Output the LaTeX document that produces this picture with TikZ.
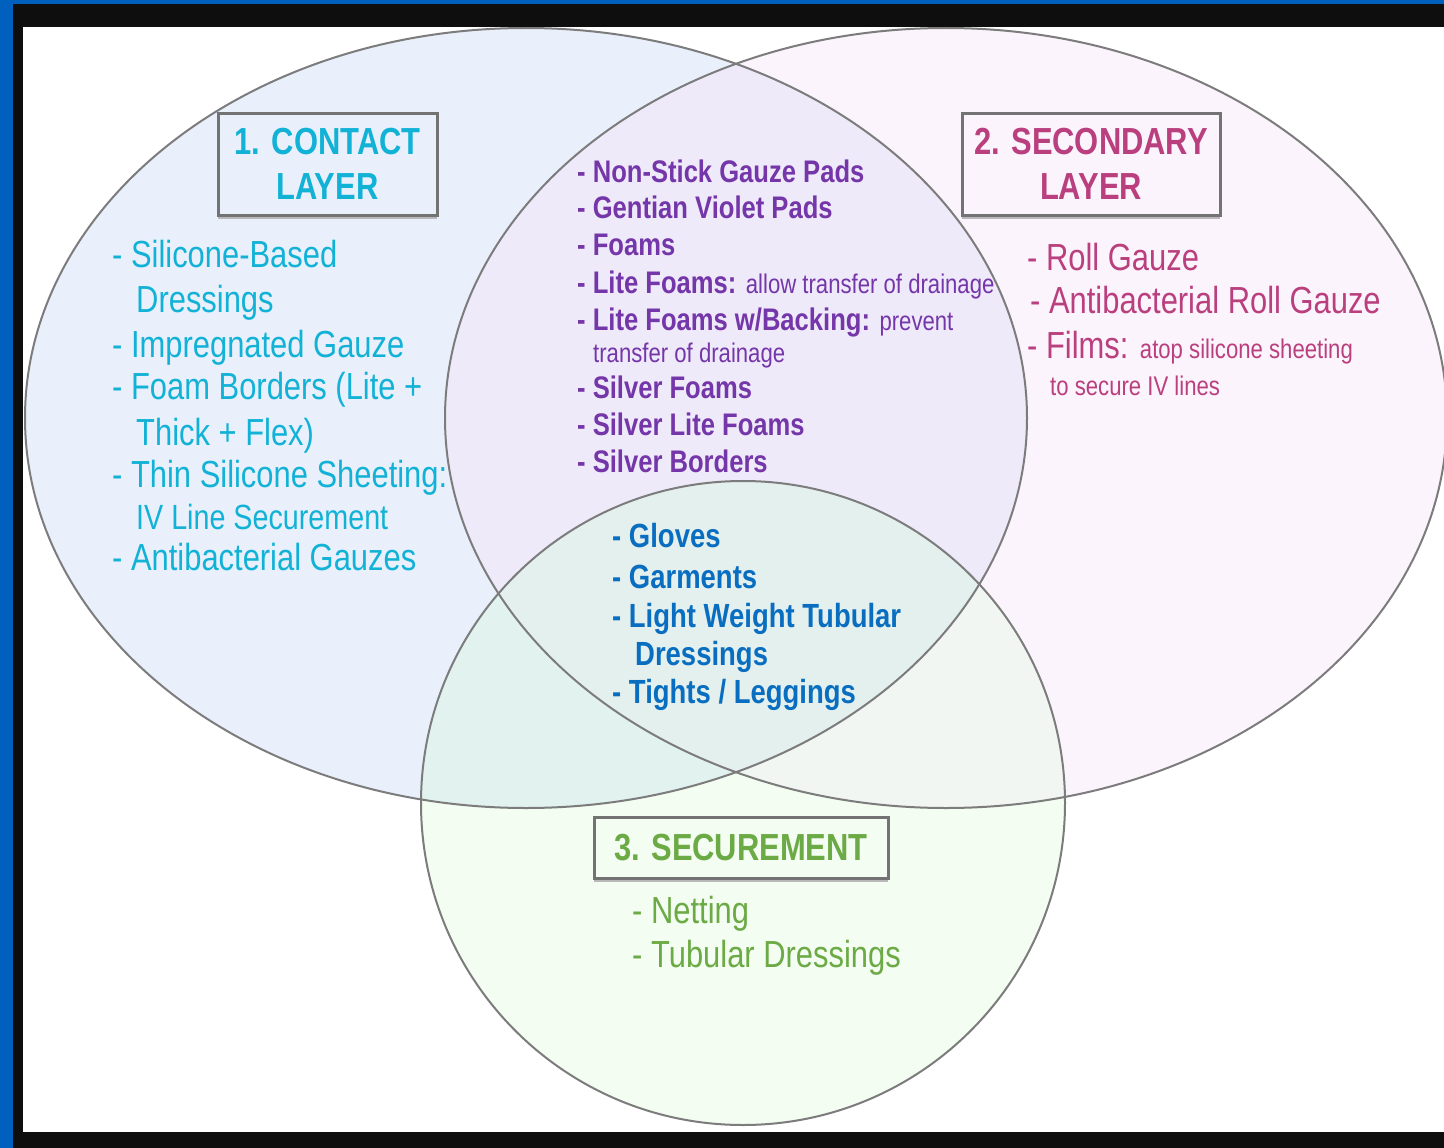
\documentclass[tikz,border=0pt]{standalone}
\usepackage{fontspec}
\setmainfont{Liberation Sans}[FakeStretch=0.82]
\usepackage{tikz}
\usetikzlibrary{shadows}

\definecolor{frameblue}{HTML}{0060BE}
\definecolor{frameblack}{HTML}{0E0E0E}
\definecolor{contactfill}{HTML}{E9F0FC}
\definecolor{secondfill}{HTML}{FCF4FC}
\definecolor{securefill}{HTML}{F3FDF1}
\definecolor{lensfill}{HTML}{EEEAFA}
\definecolor{contactsecure}{HTML}{E1F2EF}
\definecolor{secondsecure}{HTML}{F1F6F3}
\definecolor{allfill}{HTML}{E4F0EE}
\definecolor{rimgray}{HTML}{7C7C7C}
\definecolor{boxgray}{HTML}{737373}
\definecolor{shadowgray}{HTML}{B8B8B8}
\definecolor{contactcyan}{HTML}{12B2D6}
\definecolor{secondpink}{HTML}{BA3F7E}
\definecolor{securegreen}{HTML}{6BAA45}
\definecolor{sharedpurple}{HTML}{7436A8}
\definecolor{allblue}{HTML}{0A6EC0}

\begin{document}
\begin{tikzpicture}[x=1pt,y=-1pt,
	item/.style={anchor=base west,inner sep=0pt,font=\fontsize{37.7}{45}\selectfont},
	bolditem/.style={anchor=base west,inner sep=0pt,font=\fontsize{31.2}{37}\selectfont\bfseries},
	titlebox/.style={draw=boxgray,line width=3pt,align=center,inner sep=0pt,
		font=\fontsize{37.7}{45}\selectfont\bfseries,
		drop shadow={shadow xshift=0pt,shadow yshift=-4pt,fill=shadowgray,opacity=1}}]
	\useasboundingbox (0,0) rectangle (1444,1148);
	\fill[frameblue] (0,0) rectangle (1444,1148);
	\fill[frameblack] (13,4) rectangle (1444,1148);
	\fill[white] (23,27) rectangle (1444,1132);

	% circles
	\fill[contactfill] (526,418) ellipse [x radius=501pt,y radius=390pt];
	\fill[secondfill] (946,418) ellipse [x radius=501pt,y radius=390pt];
	\fill[securefill] (743,803) circle [radius=322pt];
	\begin{scope}
		\clip (946,418) ellipse [x radius=501pt,y radius=390pt];
		\fill[secondsecure] (743,803) circle [radius=322pt];
	\end{scope}
	\begin{scope}
		\clip (526,418) ellipse [x radius=501pt,y radius=390pt];
		\fill[lensfill] (946,418) ellipse [x radius=501pt,y radius=390pt];
		\fill[contactsecure] (743,803) circle [radius=322pt];
		\clip (946,418) ellipse [x radius=501pt,y radius=390pt];
		\fill[allfill] (743,803) circle [radius=322pt];
	\end{scope}
	\draw[rimgray,line width=2pt] (526,418) ellipse [x radius=501pt,y radius=390pt];
	\draw[rimgray,line width=2pt] (946,418) ellipse [x radius=501pt,y radius=390pt];
	\draw[rimgray,line width=2pt] (743,803) circle [radius=322pt];

	% titles
	\node[titlebox,fill=contactfill,text=contactcyan,minimum width=219pt,minimum height=102pt] (contact) at (327.5,164) {1. CONTACT\\LAYER};
	\node[titlebox,fill=secondfill,text=secondpink,minimum width=258pt,minimum height=102pt] (second) at (1091,164) {2. SECONDARY\\LAYER};
	\node[titlebox,fill=securefill,text=securegreen,minimum width=294pt,minimum height=61pt] (secure) at (741,847.5) {3. SECUREMENT};

	% contact layer
	\node[item,text=contactcyan] (c1) at (112,267) {- Silicone-Based};
	\node[item,text=contactcyan] (c2) at (136,312) {Dressings};
	\node[item,text=contactcyan] (c3) at (112,357) {- Impregnated Gauze};
	\node[item,text=contactcyan] (c4) at (112,399) {- Foam Borders (Lite +};
	\node[item,text=contactcyan] (c5) at (136,445) {Thick + Flex)};
	\node[item,text=contactcyan] (c6) at (112,487) {- Thin Silicone Sheeting:};
	\node[item,text=contactcyan,font=\fontsize{35}{40}\selectfont] (c7) at (136,529) {IV Line Securement};
	\node[item,text=contactcyan] (c8) at (112,570) {- Antibacterial Gauzes};

	% contact + secondary
	\node[bolditem,text=sharedpurple] (m1) at (577,182) {- Non-Stick Gauze Pads};
	\node[bolditem,text=sharedpurple] (m2) at (577,218) {- Gentian Violet Pads};
	\node[bolditem,text=sharedpurple] (m3) at (577,255) {- Foams};
	\node[bolditem,text=sharedpurple] (m4) at (577,293) {- Lite Foams: {\fontsize{27}{30}\selectfont\mdseries allow transfer of drainage}};
	\node[bolditem,text=sharedpurple] (m5) at (577,330) {- Lite Foams w/Backing: {\fontsize{27}{30}\selectfont\mdseries prevent}};
	\node[item,text=sharedpurple,font=\fontsize{27}{30}\selectfont] (m6) at (593,362) {transfer of drainage};
	\node[bolditem,text=sharedpurple] (m7) at (577,398) {- Silver Foams};
	\node[bolditem,text=sharedpurple] (m8) at (577,435) {- Silver Lite Foams};
	\node[bolditem,text=sharedpurple] (m9) at (577,472) {- Silver Borders};

	% all three
	\node[bolditem,text=allblue,font=\fontsize{33.5}{39}\selectfont\bfseries] (b1) at (612,547) {- Gloves};
	\node[bolditem,text=allblue,font=\fontsize{33.5}{39}\selectfont\bfseries] (b2) at (612,588) {- Garments};
	\node[bolditem,text=allblue,font=\fontsize{33.5}{39}\selectfont\bfseries] (b3) at (612,627) {- Light Weight Tubular};
	\node[bolditem,text=allblue,font=\fontsize{33.5}{39}\selectfont\bfseries] (b4) at (635,665) {Dressings};
	\node[bolditem,text=allblue,font=\fontsize{33.5}{39}\selectfont\bfseries] (b5) at (612,703) {- Tights / Leggings};

	% secondary layer
	\node[item,text=secondpink] (p1) at (1027,270) {- Roll Gauze};
	\node[item,text=secondpink] (p2) at (1030,313) {- Antibacterial Roll Gauze};
	\node[item,text=secondpink] (p3) at (1027,358) {- Films: {\fontsize{27}{30}\selectfont atop silicone sheeting}};
	\node[item,text=secondpink,font=\fontsize{27}{30}\selectfont] (p4) at (1050,395) {to secure IV lines};

	% securement
	\node[item,text=securegreen] (g1) at (632,923) {- Netting};
	\node[item,text=securegreen] (g2) at (632,967) {- Tubular Dressings};
\end{tikzpicture}
\end{document}
